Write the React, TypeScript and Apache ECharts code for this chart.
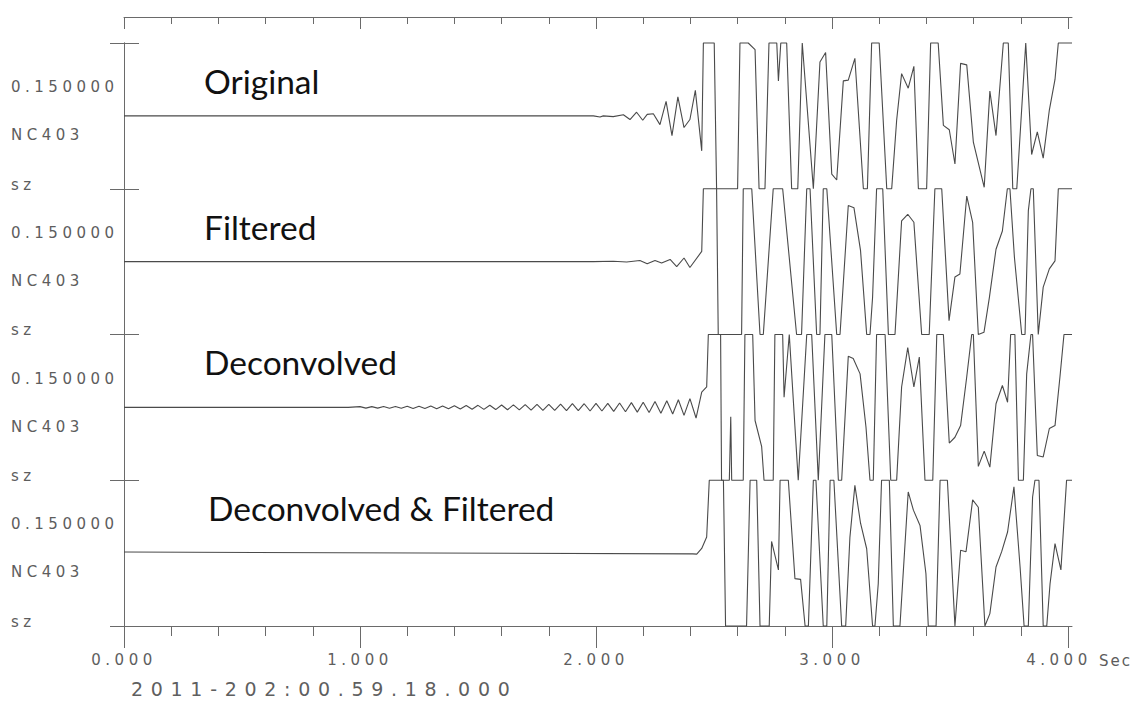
import React, { useEffect, useRef } from "react";
import * as echarts from "echarts";

// ---------- data ----------
const X_MAX = 4.017;
const majorTicks = [0, 1, 2, 3, 4];
const tickLabels = ["0.000", "1.000", "2.000", "3.000", "4.000"];
const minorTicks = [0.2, 0.4, 0.6, 0.8, 1.2, 1.4, 1.6, 1.8, 2.2, 2.4, 2.6, 2.8, 3.2, 3.4, 3.6, 3.8];
const traceTitles = ["Original", "Filtered", "Deconvolved", "Deconvolved & Filtered"];
const scaleLabel = "0.150000";
const stationLabel = "NC403";
const componentLabel = "sz";
const unitLabel = "Sec";
const dateLabel = "2011-202:00.59.18.000";

const original: [number, number][] = [
  [0, 0], [1.989, 0], [2.017, -0.016], [2.031, 0], [2.073, -0.01], [2.116, 0.016], [2.144, -0.05],
  [2.172, 0.05], [2.198, -0.06], [2.217, 0.02], [2.243, 0.03], [2.271, -0.12], [2.297, 0.2],
  [2.322, -0.27], [2.347, 0.26], [2.373, -0.16], [2.398, -0.05], [2.421, 0.35], [2.448, -0.48],
  [2.455, 1], [2.501, 1], [2.511, -1], [2.6, -1], [2.61, 1], [2.645, 1], [2.674, 0.91], [2.691, -1],
  [2.716, -1], [2.733, 1], [2.766, 1], [2.773, 0.48], [2.783, 1], [2.808, 1], [2.829, -1], [2.855, -1],
  [2.874, 1], [2.921, -1], [2.949, 0.74], [2.973, 0.87], [2.999, -0.8], [3.02, -0.88], [3.048, 0.48],
  [3.069, 0.49], [3.097, 0.79], [3.133, -1], [3.15, -1], [3.168, 1], [3.2, 1], [3.232, -1], [3.253, -1],
  [3.274, -0.06], [3.295, 0.58], [3.323, 0.38], [3.347, 0.68], [3.366, -1], [3.401, -1], [3.418, 1],
  [3.45, 1], [3.472, -0.13], [3.497, -0.19], [3.521, -0.66], [3.545, 0.72], [3.571, 0.7], [3.599, -0.36],
  [3.645, -0.98], [3.669, 0.34], [3.695, -0.27], [3.726, 1], [3.747, 1], [3.766, -1], [3.783, -1],
  [3.821, 1], [3.846, -0.53], [3.87, -0.22], [3.895, -0.58], [3.921, 0.08], [3.945, 0.5], [3.959, 1],
  [4.017, 1],
];

const filtered: [number, number][] = [
  [0, 0], [1.989, 0], [2.073, 0.005], [2.13, -0.005], [2.186, 0.015], [2.217, -0.03], [2.25, 0.015],
  [2.278, -0.02], [2.314, 0.03], [2.342, -0.07], [2.373, 0.05], [2.398, -0.08], [2.448, 0.14],
  [2.455, 1], [2.511, 1], [2.518, -1], [2.617, -1], [2.624, 1], [2.66, 1], [2.695, -1], [2.709, -1],
  [2.751, 1], [2.791, 1], [2.85, -1], [2.871, -1], [2.893, 1], [2.907, 1], [2.935, -1], [2.949, -1],
  [2.963, 1], [2.978, 1], [3.02, -1], [3.034, -1], [3.069, 0.77], [3.093, 0.74], [3.121, 0.15],
  [3.147, -1], [3.161, -1], [3.172, -0.49], [3.189, 1], [3.215, 1], [3.239, -1], [3.267, -1],
  [3.295, 0.56], [3.321, 0.65], [3.347, 0.54], [3.38, -1], [3.412, -1], [3.436, 1], [3.465, 1],
  [3.496, -0.81], [3.521, -0.21], [3.542, -0.17], [3.571, 0.9], [3.596, 0.54], [3.62, -1],
  [3.644, -0.97], [3.667, -0.49], [3.695, 0.17], [3.722, 0.42], [3.743, 1], [3.754, 1], [3.773, 0.06],
  [3.804, -1], [3.818, -1], [3.832, 0.7], [3.843, 1], [3.853, 1], [3.874, -1], [3.895, -0.35],
  [3.921, -0.1], [3.945, 0.01], [3.959, 1], [4.017, 1],
];

const deconvolved: [number, number][] = [
  [0, 0], [0.95, 0],
  [1.0, 0.01], [1.025, -0.01], [1.05, 0.01], [1.075, -0.01], [1.1, 0.012], [1.125, -0.012],
  [1.15, 0.012], [1.175, -0.012], [1.2, 0.015], [1.225, -0.015], [1.25, 0.015], [1.275, -0.015],
  [1.3, 0.018], [1.325, -0.018], [1.35, 0.02], [1.375, -0.02], [1.4, 0.022], [1.425, -0.022],
  [1.45, 0.025], [1.475, -0.025], [1.5, 0.028], [1.525, -0.028], [1.55, 0.03], [1.575, -0.03],
  [1.6, 0.033], [1.625, -0.033], [1.65, 0.035], [1.675, -0.035], [1.7, 0.038], [1.725, -0.038],
  [1.75, 0.04], [1.775, -0.04], [1.8, 0.042], [1.825, -0.042], [1.85, 0.045], [1.875, -0.045],
  [1.9, 0.05], [1.925, -0.045], [1.95, 0.05], [1.975, -0.05], [2.0, 0.055], [2.025, -0.05],
  [2.05, 0.055], [2.075, -0.055], [2.1, 0.06], [2.125, -0.06], [2.15, 0.065], [2.175, -0.065],
  [2.2, 0.07], [2.225, -0.07], [2.25, 0.08], [2.275, -0.08], [2.3, 0.09], [2.325, -0.09],
  [2.349, 0.105], [2.373, -0.11], [2.398, 0.12], [2.424, -0.146], [2.448, 0.21], [2.469, 0.28],
  [2.476, 1], [2.528, 1], [2.532, -1], [2.565, -1], [2.571, -0.13], [2.575, -1], [2.624, -1],
  [2.631, 1], [2.664, 1], [2.674, -0.18], [2.702, -0.54], [2.712, -1], [2.751, -1], [2.758, 1],
  [2.791, 1], [2.797, 0.14], [2.819, 1], [2.857, -1], [2.893, 1], [2.914, 1], [2.942, -1], [2.97, 1],
  [2.999, 1], [3.027, -1], [3.041, -1], [3.069, 0.7], [3.09, 0.67], [3.119, 0.46], [3.144, -0.27],
  [3.161, -1], [3.175, -1], [3.189, 1], [3.225, 1], [3.249, -1], [3.274, -1], [3.295, 0.28],
  [3.321, 0.82], [3.347, 0.28], [3.37, 0.69], [3.394, -1], [3.427, -1], [3.444, 1], [3.472, 1],
  [3.497, -0.49], [3.521, -0.41], [3.545, -0.25], [3.571, 0.42], [3.592, 1], [3.599, 1],
  [3.62, -0.81], [3.645, -0.6], [3.669, -0.82], [3.695, 0.05], [3.722, 0.3], [3.744, 0.07],
  [3.757, 1], [3.775, 1], [3.79, -1], [3.811, -1], [3.825, 0.46], [3.843, 1], [3.85, 1],
  [3.87, -0.66], [3.895, -0.68], [3.921, -0.29], [3.945, -0.25], [3.966, 0.42], [3.983, 1],
  [4.017, 1],
];

const decFiltered: [number, number][] = [
  [0, 0.015], [2.41, -0.01], [2.427, -0.014], [2.448, 0.064], [2.469, 0.22], [2.48, 1], [2.54, 1],
  [2.549, -1], [2.638, -1], [2.653, 1], [2.681, 1], [2.695, -1], [2.734, -1], [2.744, 0.16],
  [2.773, -0.23], [2.78, 1], [2.815, 1], [2.843, -0.35], [2.867, -0.36], [2.886, -1], [2.9, -1],
  [2.921, 1], [2.932, 1], [2.963, -1], [2.978, -1], [2.992, 1], [3.008, 1], [3.041, -1], [3.058, -1],
  [3.076, 0.22], [3.097, 0.93], [3.121, 0.41], [3.147, 0.06], [3.172, -1], [3.182, -1],
  [3.196, -0.42], [3.21, 1], [3.243, 1], [3.26, -1], [3.288, -1], [3.323, 0.84], [3.345, 0.59],
  [3.373, 0.38], [3.398, -0.28], [3.408, -1], [3.441, -1], [3.458, 1], [3.489, 1], [3.521, -1],
  [3.545, 0.04], [3.568, 0.02], [3.596, 0.73], [3.62, 0.63], [3.648, -1], [3.669, -0.83],
  [3.695, -0.19], [3.719, 0.02], [3.744, 0.29], [3.771, 0.91], [3.797, -0.19], [3.814, -1],
  [3.832, -1], [3.85, 0.77], [3.86, 1], [3.877, 1], [3.895, -1], [3.91, -1], [3.924, -0.42],
  [3.945, 0.13], [3.97, -0.23], [3.994, 1], [4.017, 1],
];

const traces = [original, filtered, deconvolved, decFiltered];

// ---------- layout ----------
const PLOT_L = 124;
const PLOT_R = 1072;
const PLOT_T = 43;
const PLOT_B = 626;
const W = 1136;
const H = 718;
const PANEL_H = (PLOT_B - PLOT_T) / 4;
const FRAME = "#6a6a6a";
const TRACE = "#4a4a4a";
const LABEL_C = "#5d5d5d";
const AXIS_LABEL_C = "#5e5e5e";
const DATE_C = "#5f5f5f";
const UNIT_C = "#5c5c5c";
const LABEL_FONT = "'DejaVu Sans', sans-serif";
const TITLE_FONT = "Lato, 'Noto Sans', sans-serif";
const titleY = [81, 227, 361.5, 508];
const titleX = [204, 204, 204, 208];

const css = `
#root svg text[fill="${LABEL_C}"] { letter-spacing: 4.5px; }
#root svg text[fill="${AXIS_LABEL_C}"] { letter-spacing: 4.5px; }
#root svg text[fill="${DATE_C}"] { letter-spacing: 7.7px; }
#root svg text[fill="${UNIT_C}"] { letter-spacing: 2px; }
`;

export default function App() {
  const ref = useRef<HTMLDivElement>(null);
  useEffect(() => {
    if (!ref.current) return;
    const chart = echarts.init(ref.current, undefined, { renderer: "svg" });

    const grids: any[] = [
      { left: PLOT_L, top: PLOT_T, width: PLOT_R - PLOT_L, height: PLOT_B - PLOT_T },
    ];
    const xAxes: any[] = [
      {
        gridIndex: 0, type: "value", position: "bottom", min: 0, max: X_MAX,
        axisLine: { show: true, lineStyle: { color: FRAME, width: 1 } },
        axisTick: { show: true, customValues: majorTicks, length: 22, lineStyle: { color: FRAME, width: 1 } },
        axisLabel: {
          show: true, customValues: majorTicks, margin: 26, color: AXIS_LABEL_C,
          fontFamily: LABEL_FONT, fontSize: 15,
          formatter: (v: number) => {
            const idx = majorTicks.indexOf(Math.round(v));
            const s = tickLabels[idx] ?? "";
            return idx === majorTicks.length - 1 ? `{last|${s}}` : s;
          },
          rich: {
            last: { color: AXIS_LABEL_C, fontFamily: LABEL_FONT, fontSize: 15, padding: [0, 18, 0, 0] },
          },
        },
        splitLine: { show: false },
      },
      {
        gridIndex: 0, type: "value", position: "bottom", min: 0, max: X_MAX,
        axisLine: { show: false },
        axisTick: { show: true, customValues: minorTicks, length: 10, lineStyle: { color: FRAME, width: 1 } },
        axisLabel: { show: false }, splitLine: { show: false },
      },
      {
        gridIndex: 0, type: "value", position: "top", offset: 26, min: 0, max: X_MAX,
        axisLine: { show: true, lineStyle: { color: FRAME, width: 1 } },
        axisTick: { show: true, inside: true, customValues: majorTicks, length: 12, lineStyle: { color: FRAME, width: 1 } },
        axisLabel: { show: false }, splitLine: { show: false },
      },
      {
        gridIndex: 0, type: "value", position: "top", offset: 26, min: 0, max: X_MAX,
        axisLine: { show: false },
        axisTick: { show: true, inside: true, customValues: minorTicks, length: 7, lineStyle: { color: FRAME, width: 1 } },
        axisLabel: { show: false }, splitLine: { show: false },
      },
    ];
    const yAxes: any[] = [
      {
        gridIndex: 0, type: "value", position: "left", min: 0, max: 4, interval: 1,
        axisLine: { show: true, lineStyle: { color: FRAME, width: 1 } },
        axisTick: { show: true, inside: true, length: 15, lineStyle: { color: FRAME, width: 1 } },
        axisLabel: { show: false }, splitLine: { show: false },
      },
      {
        gridIndex: 0, type: "value", position: "right", min: 0, max: 4, interval: 1,
        axisLine: { show: true, lineStyle: { color: FRAME, width: 1 } },
        axisTick: { show: true, inside: true, length: 14, lineStyle: { color: FRAME, width: 1 } },
        axisLabel: { show: false }, splitLine: { show: false },
      },
    ];
    const series: any[] = [];
    const graphics: any[] = [];
    const baseX = xAxes.length;
    const baseY = yAxes.length;

    traces.forEach((data, i) => {
      const top = PLOT_T + i * PANEL_H;
      grids.push({ left: PLOT_L, top, width: PLOT_R - PLOT_L, height: PANEL_H });
      xAxes.push({ gridIndex: i + 1, type: "value", min: 0, max: X_MAX, show: false });
      yAxes.push({ gridIndex: i + 1, type: "value", min: -1, max: 1, show: false });
      series.push({
        type: "line", xAxisIndex: baseX + i, yAxisIndex: baseY + i, data,
        showSymbol: false, symbol: "none", clip: false,
        lineStyle: { color: TRACE, width: 1.1 },
      });
      graphics.push({
        type: "text", x: titleX[i], y: titleY[i],
        style: {
          text: traceTitles[i], fill: "#111", font: `400 33.5px ${TITLE_FONT}`,
          textAlign: "left", textVerticalAlign: "middle",
        },
      });
      const labels = [scaleLabel, stationLabel, componentLabel];
      const offs = [44, 92, 141.5];
      labels.forEach((t, k) => {
        graphics.push({
          type: "text", x: 11, y: top + offs[k],
          style: { text: t, fill: LABEL_C, font: `15px ${LABEL_FONT}`, textAlign: "left", textVerticalAlign: "middle" },
        });
      });
    });

    graphics.push({
      type: "text", x: 1099, y: 661,
      style: { text: unitLabel, fill: UNIT_C, font: `15px ${LABEL_FONT}`, textAlign: "left", textVerticalAlign: "middle" },
    });
    graphics.push({
      type: "text", x: 131, y: 689,
      style: { text: dateLabel, fill: DATE_C, font: `19px ${LABEL_FONT}`, textAlign: "left", textVerticalAlign: "middle" },
    });

    chart.setOption({
      animation: false,
      backgroundColor: "#ffffff",
      grid: grids,
      xAxis: xAxes,
      yAxis: yAxes,
      series,
      graphic: graphics,
    });
    return () => chart.dispose();
  }, []);

  return (
    <>
      <style>{css}</style>
      <div ref={ref} style={{ position: "fixed", left: 0, top: 0, width: W, height: H, background: "#fff" }} />
    </>
  );
}
